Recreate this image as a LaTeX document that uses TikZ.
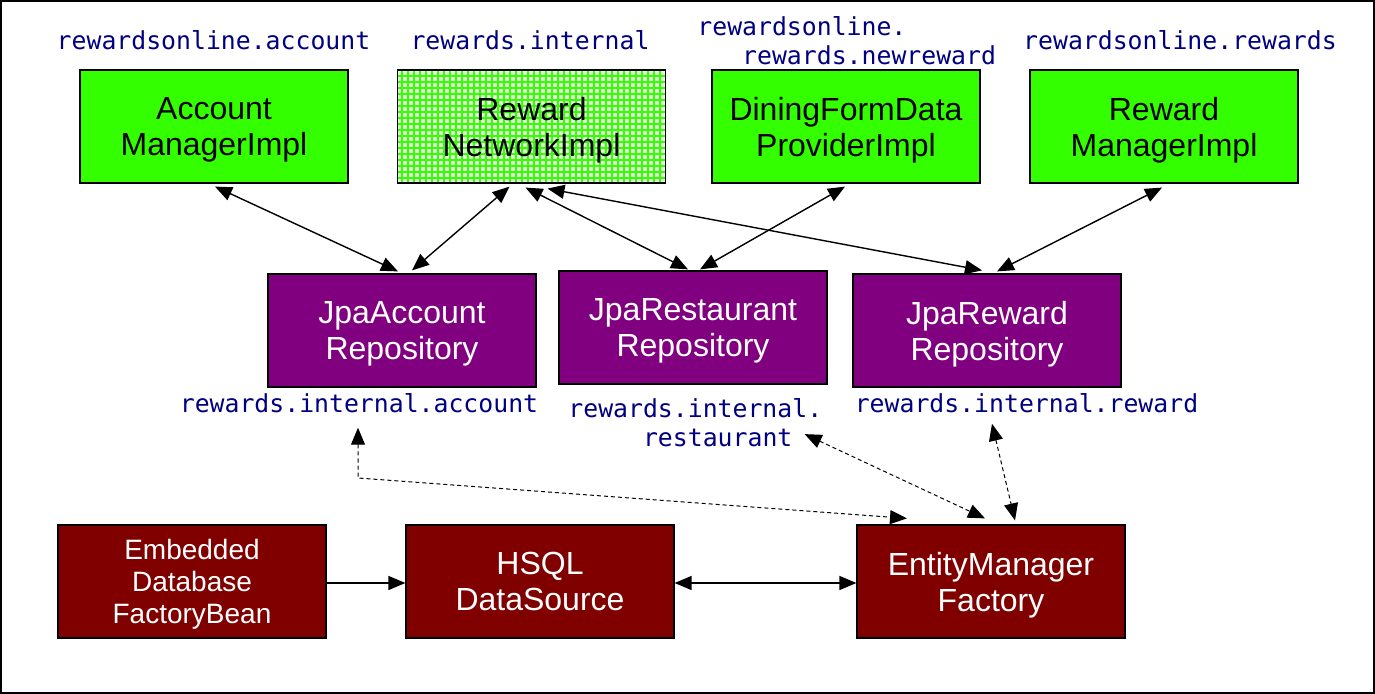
\documentclass[tikz,border=0pt]{standalone}
\usepackage{fontspec}
\setmainfont{Liberation Sans}
\newfontfamily\pkgfont{DejaVu Sans Mono}
\usetikzlibrary{arrows.meta, calc, patterns.meta}

\definecolor{implgreen}{RGB}{51,255,0}
\definecolor{repopurple}{RGB}{128,0,128}
\definecolor{infrared}{RGB}{128,0,0}
\definecolor{pkgblue}{RGB}{0,0,128}

\tikzset{
	box/.style={draw=black, line width=0.6pt, minimum width=134pt, minimum height=56.5pt,
		inner sep=0pt, text depth=0pt, align=center, font=\fontsize{16}{18}\selectfont},
	impl/.style={box, fill=implgreen},
	hatched/.style={box, fill=implgreen!15,
		postaction={pattern={Lines[angle=0,distance=3pt,line width=1.1pt]}, pattern color=implgreen},
		postaction={pattern={Lines[angle=90,distance=3pt,line width=1.1pt]}, pattern color=implgreen},
		postaction={draw=black, line width=0.6pt}},
	repo/.style={box, fill=repopurple, text=white},
	infra/.style={box, fill=infrared, text=white},
	pkg/.style={inner sep=0pt, text=pkgblue, font=\pkgfont\fontsize{12.4}{14.5}\selectfont},
	link/.style={{Triangle[length=8.5pt,width=7pt]}-{Triangle[length=8.5pt,width=7pt]}, line width=0.7pt},
	feed/.style={-{Triangle[length=8.5pt,width=7pt]}, line width=0.7pt},
	dep/.style={link, line width=0.5pt, dash pattern=on 2pt off 1.5pt},
}

\begin{document}
\begin{tikzpicture}[x=0.5pt, y=-0.5pt]
		\useasboundingbox (0,0) rectangle (1375,694);
		\draw[line width=1pt] (1,1) rectangle (1374,693);
		
		% Implementations
		\node[impl] (accmgr) at (214,126.5) {Account\\ManagerImpl};
		\node[hatched] (rewnet) at (531.5,126.5) {Reward\\NetworkImpl};
		\node[impl] (dining) at (846,126.5) {DiningFormData\\ProviderImpl};
		\node[impl] (rewmgr) at (1164,126.5) {Reward\\ManagerImpl};
		
		% Repositories
		\node[repo] (jpaacc) at (402,330.5) {JpaAccount\\Repository};
		\node[repo] (jparest) at (693,327.5) {JpaRestaurant\\Repository};
		\node[repo] (jparew) at (987,330.5) {JpaReward\\Repository};
		
		% Infrastructure
		\node[infra, font=\fontsize{14}{16}\selectfont] (embdb) at (192,581.5) {Embedded\\Database\\FactoryBean};
		\node[infra] (hsql) at (540,581.5) {HSQL\\DataSource};
		\node[infra] (emf) at (991,581.5) {EntityManager\\Factory};
		
		% Packages
		\node[pkg, anchor=base] (accmgrpkg) at (213.5,50) {rewardsonline.account};
		\node[pkg, anchor=base] (rewnetpkg) at (530,50) {rewards.internal};
		\node[pkg, anchor=north west, align=left] (diningpkg) at (697,16) {rewardsonline.\\\phantom{rew}rewards.newreward};
		\node[pkg, anchor=base] (rewmgrpkg) at (1180,50) {rewardsonline.rewards};
		\node[pkg, anchor=base] (jpaaccpkg) at (359,413) {rewards.internal.account};
		\node[pkg, anchor=north west, align=left] (jparestpkg) at (568,398) {rewards.internal.\\\phantom{rewar}restaurant};
		\node[pkg, anchor=base] (jparewpkg) at (1026.5,413) {rewards.internal.reward};
		
		\draw[link] ($(accmgr.south)+(1,3)$) -- ($(jpaacc.north)+(-4,-2)$);
		\draw[link] ($(rewnet.south)+(-22,3)$) -- ($(jpaacc.north)+(10,-3)$);
		\draw[link] ($(rewnet.south)+(-6,4)$) -- ($(jparest.north)+(-5,-1)$);
		\draw[link] ($(dining.south)+(-1,3)$) -- ($(jparest.north)+(7,-1)$);
		\draw[link] ($(rewnet.south)+(16,5)$) -- ($(jparew.north)+(-5,-3)$);
		\draw[link] ($(rewmgr.south)+(-2,4)$) -- ($(jparew.north)+(10,-2)$);
		
		\draw[feed] ($(embdb.east)+(0,1.5)$) -- ($(hsql.west)+(0,1.5)$);
		\draw[link] ($(hsql.east)+(0,1.5)$) -- ($(emf.west)+(0,1.5)$);
		
		% Dependencies
		\coordinate (accbend) at (358,478);
		\draw[dep] ($(jpaaccpkg.south)+(-1,14)$) -- (accbend) -- ($(emf.north)+(-84,-6)$);
		\draw[dep] ($(jparestpkg.south east)+(-18,-13)$) -- ($(emf.north)+(-6,-6)$);
		\draw[dep] ($(jparewpkg.south)+(-34.5,10)$) -- ($(emf.north)+(24,-4)$);
	  \end{tikzpicture}
\end{document}
